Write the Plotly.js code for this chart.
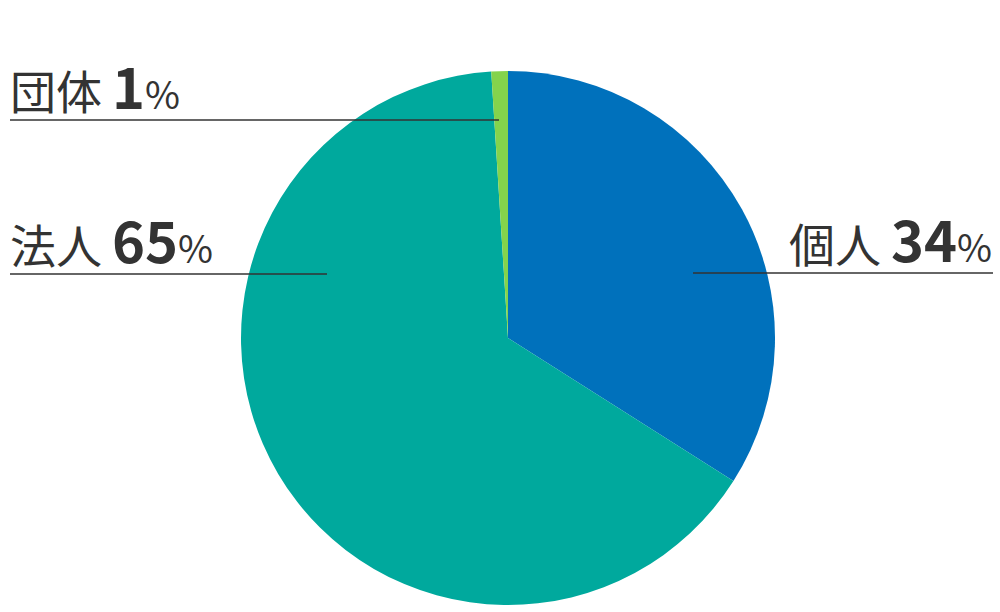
<!DOCTYPE html>
<html><head><meta charset="utf-8">
<script src="https://cdn.plot.ly/plotly-3.0.1.min.js"></script>
<style>html,body{margin:0;padding:0;background:#fff}#c{width:1000px;height:612px}</style>
</head><body><div id="c"></div>
<script>
const labels = ['個人', '法人', '団体'];
const values = [34, 65, 1];
const colors = ['#0071BC', '#00A99D', '#84D34C'];

const FONT = '"Noto Sans CJK JP", "Noto Sans", sans-serif';
function labelText(i) {
  return '<span style="font-size:46px">' + labels[i] + '</span><span style="font-size:20px">\u2002</span><b style="font-size:56px">' + values[i] +
         '</b><span style="font-size:38px">%</span>';
}
const W = 1000, H = 612;
const px = x => x / W, py = y => 1 - y / H;

const trace = {
  type: 'pie', labels: labels, values: values, sort: false, direction: 'clockwise', rotation: 0,
  marker: {colors: colors, line: {width: 0}}, textinfo: 'none', hoverinfo: 'label+percent',
  domain: {x: [0.241, 0.775], y: [1 - 605/612, 1 - 71/612]}, showlegend: false
};

function hline(x0, x1, y) {
  return {type: 'line', xref: 'paper', yref: 'paper', x0: px(x0), x1: px(x1), y0: py(y), y1: py(y),
          line: {color: '#333', width: 1.5}};
}
function ann(i, x, y, anchor) {
  return {xref: 'paper', yref: 'paper', x: px(x), y: py(y), xanchor: anchor, yanchor: 'bottom',
          text: labelText(i), showarrow: false, font: {family: FONT, color: '#333'}};
}

const layout = {
  width: W, height: H, margin: {l: 0, r: 0, t: 0, b: 0},
  paper_bgcolor: '#fff',
  shapes: [hline(693, 993, 273), hline(10, 327, 274), hline(10, 499, 120)],
  annotations: [ann(0, 994, 280, 'right'), ann(1, 8, 281, 'left'), ann(2, 8, 127, 'left')]
};
Plotly.newPlot('c', [trace], layout, {staticPlot: true});
</script></body></html>
